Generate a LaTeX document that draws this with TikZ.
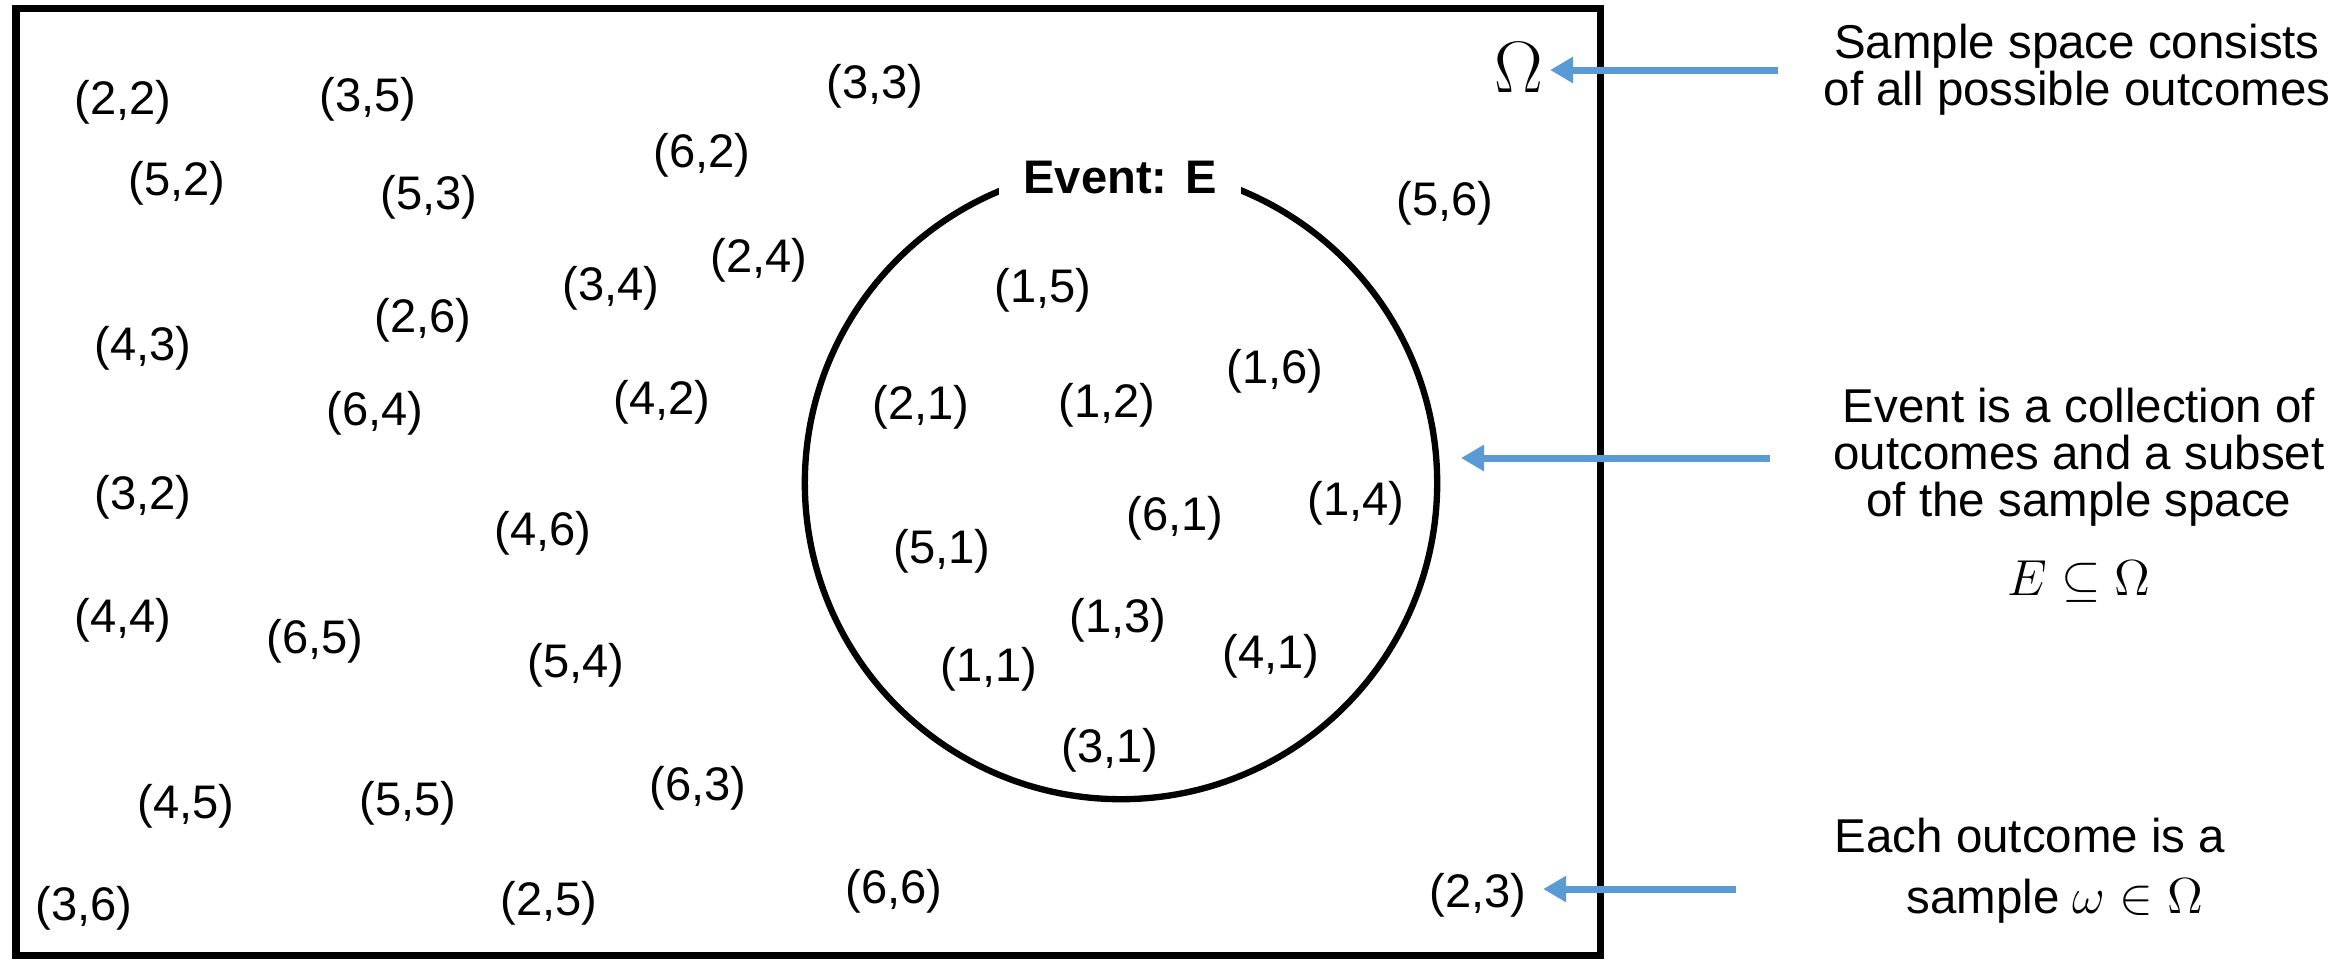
\documentclass[tikz,border=0pt]{standalone}
\usepackage{fontspec}
\setmainfont{Liberation Sans}
\usetikzlibrary{arrows.meta}
\definecolor{arrowblue}{RGB}{91,155,213}
\newcommand\mynotefont{\fontsize{13.5pt}{13.4pt}\selectfont\lineskiplimit=-20pt\relax}
\begin{document}
\begin{tikzpicture}[x=0.01cm,y=-0.01cm,
  outcome/.style={inner sep=0pt, font=\fontsize{13.4pt}{15pt}\selectfont},
  note/.style={inner sep=0pt, align=center, font=\mynotefont},
  pointer/.style={draw=arrowblue, line width=2pt, -{Triangle[length=0.23cm,width=0.25cm]}},
  frame/.style={draw=black, line width=2pt},
  eventring/.style={circle, draw=black, line width=1.8pt, inner sep=0pt, minimum size=6.32cm}]
\useasboundingbox (0,0) rectangle (2351,959);

% sample space frame
\draw[frame] (16,8) rectangle (1600,955);

% event circle
\node[eventring] (event) at (1121,483) {};
\node[outcome, fill=white, inner xsep=0.25cm, inner ysep=0.07cm] (eventlabel) at (1120,178) {\textbf{Event: E}};

% omega symbol
\node[inner sep=0pt, font=\fontsize{20.5pt}{24pt}\selectfont] (omega) at (1519,68) {$\Omega$};

% outcomes
\node[outcome] (o22) at (123,102) {(2,2)};
\node[outcome] (o35) at (368,99) {(3,5)};
\node[outcome] (o33) at (875,86) {(3,3)};
\node[outcome] (o62) at (702,155) {(6,2)};
\node[outcome] (o52) at (177,183) {(5,2)};
\node[outcome] (o53) at (429,197) {(5,3)};
\node[outcome] (o56) at (1445,203) {(5,6)};
\node[outcome] (o24) at (759,260) {(2,4)};
\node[outcome] (o34) at (611,288) {(3,4)};
\node[outcome] (o15) at (1043,290) {(1,5)};
\node[outcome] (o43) at (143,348) {(4,3)};
\node[outcome] (o26) at (423,320) {(2,6)};
\node[outcome] (o16) at (1275,371) {(1,6)};
\node[outcome] (o21) at (921,407) {(2,1)};
\node[outcome] (o12) at (1107,405) {(1,2)};
\node[outcome] (o64) at (375,413) {(6,4)};
\node[outcome] (o42) at (662,402) {(4,2)};
\node[outcome] (o32) at (143,497) {(3,2)};
\node[outcome] (o14) at (1356,503) {(1,4)};
\node[outcome] (o61) at (1175,518) {(6,1)};
\node[outcome] (o51) at (942,551) {(5,1)};
\node[outcome] (o46) at (543,533) {(4,6)};
\node[outcome] (o44) at (123,620) {(4,4)};
\node[outcome] (o65) at (315,641) {(6,5)};
\node[outcome] (o54) at (576,665) {(5,4)};
\node[outcome] (o13) at (1118,620) {(1,3)};
\node[outcome] (o11) at (989,669) {(1,1)};
\node[outcome] (o41) at (1271,656) {(4,1)};
\node[outcome] (o31) at (1110,750) {(3,1)};
\node[outcome] (o45) at (186,806) {(4,5)};
\node[outcome] (o55) at (408,803) {(5,5)};
\node[outcome] (o63) at (698,788) {(6,3)};
\node[outcome] (o36) at (84,908) {(3,6)};
\node[outcome] (o25) at (549,903) {(2,5)};
\node[outcome] (o66) at (894,891) {(6,6)};
\node[outcome] (o23) at (1478,895) {(2,3)};

% explanatory notes
\node[note, anchor=north] (ssnote) at (2077,23) {Sample space consists\\of all possible outcomes};
\node[note, anchor=north] (evnote) at (2079,387) {Event is a collection of\\outcomes and a subset\\of the sample space\\[0.32cm]$E\subseteq\Omega$};
\node[note, anchor=north west, align=left] (ocnote) at (1834,817) {Each outcome is a\\[0.145cm]\hspace*{0.72cm}sample $\omega\in\Omega$};

% pointers
\coordinate (ssTail) at (1778,70);
\coordinate (evTail) at (1770,458);
\coordinate (evTip) at (1461,458);
\coordinate (ocTail) at (1736,889);
\draw[pointer, shorten >=0.06cm] (ssTail) -- (ssTail -| omega.east);
\draw[pointer] (evTail) -- (evTip);
\draw[pointer, shorten >=0.16cm] (ocTail) -- (ocTail -| o23.east);
\end{tikzpicture}
\end{document}
